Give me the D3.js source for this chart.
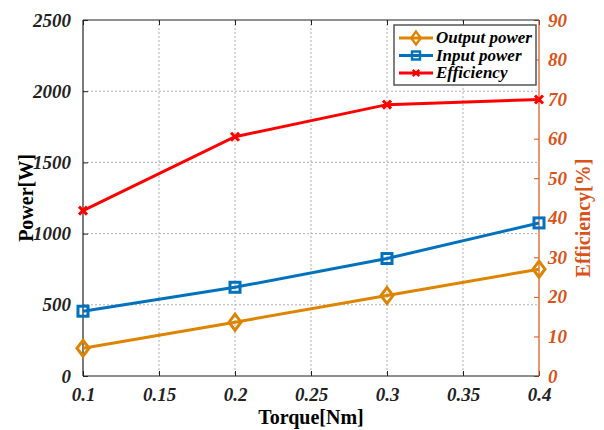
<!DOCTYPE html>
<html>
<head>
<meta charset="utf-8">
<script src="https://cdn.jsdelivr.net/npm/d3@7"></script>
<style>
  body { margin: 0; background: #fff; }
  text { font-family: "Liberation Serif", "Times New Roman", serif; }
</style>
</head>
<body>
<div id="chart"></div>
<script>
// chart values
const torque = [0.1, 0.2, 0.3, 0.4];
const outputPower = [195, 378, 565, 750];
const inputPower = [455, 623, 825, 1075];
const efficiency = [41.8, 60.5, 68.6, 69.9];
const xTicks = [0.1, 0.15, 0.2, 0.25, 0.3, 0.35, 0.4];
const leftTicks = [0, 500, 1000, 1500, 2000, 2500];
const rightTicks = [0, 10, 20, 30, 40, 50, 60, 70, 80, 90];
const seriesNames = ['Output power', 'Input power', 'Efficiency'];

const width = 604;
const height = 430;
const margin = { top: 20, right: 65, bottom: 54, left: 83 };
const innerW = width - margin.left - margin.right;
const innerH = height - margin.top - margin.bottom;

const cOut = '#DD8400';
const cIn = '#0072BD';
const cEff = '#FF0000';
const cRight = '#D95319';
const serif = '"Liberation Serif", "Times New Roman", serif';

const svg = d3.select('#chart').append('svg')
  .attr('width', width)
  .attr('height', height);

const g = svg.append('g')
  .attr('transform', `translate(${margin.left},${margin.top})`);

const x = d3.scaleLinear().domain([0.1, 0.4]).range([0, innerW]);
const yL = d3.scaleLinear().domain([0, 2500]).range([innerH, 0]);
const yR = d3.scaleLinear().domain([0, 90]).range([innerH, 0]);

// grid
g.append('g').selectAll('line').data(xTicks.slice(1, -1)).join('line')
  .attr('x1', (d) => x(d)).attr('x2', (d) => x(d))
  .attr('y1', 0).attr('y2', innerH)
  .attr('stroke', '#b0b0b0').attr('stroke-width', 1)
  .attr('stroke-dasharray', '2,2');
g.append('g').selectAll('line').data(leftTicks.slice(1, -1)).join('line')
  .attr('x1', 0).attr('x2', innerW)
  .attr('y1', (d) => yL(d)).attr('y2', (d) => yL(d))
  .attr('stroke', '#b0b0b0').attr('stroke-width', 1)
  .attr('stroke-dasharray', '2,2');

// axes, ticks inside
const tickStyle = (sel, color) => {
  sel.attr('font-family', serif);
  sel.select('.domain').remove();
  sel.selectAll('.tick line').attr('stroke', color);
  sel.selectAll('.tick text')
    .attr('fill', color)
    .attr('font-size', '19px')
    .attr('font-weight', 'bold')
    .attr('font-style', 'italic');
};

const xAxisG = g.append('g')
  .attr('transform', `translate(0,${innerH})`)
  .call(d3.axisBottom(x).tickValues(xTicks).tickSizeInner(-5).tickSizeOuter(0)
    .tickPadding(12).tickFormat((d) => String(+d.toFixed(2))));
tickStyle(xAxisG, '#222');

const xTopG = g.append('g')
  .call(d3.axisTop(x).tickValues(xTicks).tickSizeInner(-5).tickSizeOuter(0).tickFormat(''));
tickStyle(xTopG, '#222');

const yLG = g.append('g')
  .call(d3.axisLeft(yL).tickValues(leftTicks).tickSizeInner(-5).tickSizeOuter(0)
    .tickPadding(12).tickFormat(d3.format('d')));
tickStyle(yLG, '#222');

const yRG = g.append('g')
  .attr('transform', `translate(${innerW},0)`)
  .call(d3.axisRight(yR).tickValues(rightTicks).tickSizeInner(-5).tickSizeOuter(0).tickPadding(9));
tickStyle(yRG, cRight);

// frame
g.append('line').attr('x1', 0).attr('x2', innerW).attr('y1', 0).attr('y2', 0)
  .attr('stroke', '#222').attr('stroke-width', 1.2);
g.append('line').attr('x1', 0).attr('x2', innerW).attr('y1', innerH).attr('y2', innerH)
  .attr('stroke', '#222').attr('stroke-width', 1.2);
g.append('line').attr('x1', 0).attr('x2', 0).attr('y1', 0).attr('y2', innerH)
  .attr('stroke', '#222').attr('stroke-width', 1.2);
g.append('line').attr('x1', innerW).attr('x2', innerW).attr('y1', 0).attr('y2', innerH)
  .attr('stroke', cRight).attr('stroke-width', 1.2);

// lines
const lineL = d3.line().x((d) => x(d[0])).y((d) => yL(d[1]));
const lineR = d3.line().x((d) => x(d[0])).y((d) => yR(d[1]));

const series = [
  { name: seriesNames[0], color: cOut, pts: torque.map((t, i) => [t, outputPower[i]]), line: lineL, y: yL, marker: 'diamond' },
  { name: seriesNames[1], color: cIn, pts: torque.map((t, i) => [t, inputPower[i]]), line: lineL, y: yL, marker: 'square' },
  { name: seriesNames[2], color: cEff, pts: torque.map((t, i) => [t, efficiency[i]]), line: lineR, y: yR, marker: 'cross' },
];

function drawMarker(sel, type, color) {
  if (type === 'diamond') {
    sel.append('path').attr('d', 'M0,-8L6,0L0,8L-6,0Z')
      .attr('fill', 'none').attr('stroke', color).attr('stroke-width', 3);
  } else if (type === 'square') {
    sel.append('rect').attr('x', -5).attr('y', -5).attr('width', 10).attr('height', 10)
      .attr('fill', 'none').attr('stroke', color).attr('stroke-width', 3);
  } else {
    sel.append('path').attr('d', 'M-4,-4L4,4M-4,4L4,-4')
      .attr('stroke', color).attr('stroke-width', 3);
  }
}

series.forEach((s) => {
  g.append('path').datum(s.pts)
    .attr('d', s.line)
    .attr('fill', 'none')
    .attr('stroke', s.color)
    .attr('stroke-width', 3);
  s.pts.forEach((p) => {
    const m = g.append('g').attr('transform', `translate(${x(p[0])},${s.y(p[1])})`);
    drawMarker(m, s.marker, s.color);
  });
});

// legend
const lg = svg.append('g').attr('transform', 'translate(394,25)');
lg.append('rect').attr('x', 0).attr('y', 0).attr('width', 142).attr('height', 60)
  .attr('fill', '#fff').attr('stroke', '#555').attr('stroke-width', 1.5);
series.forEach((s, i) => {
  const yy = 13 + i * 17.5;
  lg.append('line').attr('x1', 5).attr('x2', 39).attr('y1', yy).attr('y2', yy)
    .attr('stroke', s.color).attr('stroke-width', 3);
  const m = lg.append('g').attr('transform', `translate(22,${yy}) scale(0.8)`);
  drawMarker(m, s.marker, s.color);
  lg.append('text').attr('x', 42).attr('y', yy + 5)
    .attr('font-size', '17px').attr('font-weight', 'bold').attr('font-style', 'italic')
    .attr('fill', '#000')
    .text(s.name);
});

// axis titles
svg.append('text')
  .attr('x', margin.left + innerW / 2).attr('y', 424)
  .attr('text-anchor', 'middle')
  .attr('font-size', '20px').attr('font-weight', 'bold')
  .text('Torque[Nm]');

svg.append('text')
  .attr('transform', `translate(33,${margin.top + innerH / 2}) rotate(-90)`)
  .attr('text-anchor', 'middle')
  .attr('font-size', '20px').attr('font-weight', 'bold')
  .text('Power[W]');

svg.append('text')
  .attr('transform', `translate(590,${margin.top + innerH / 2 + 20}) rotate(-90)`)
  .attr('text-anchor', 'middle')
  .attr('font-size', '20px').attr('font-weight', 'bold')
  .attr('fill', cRight)
  .text('Efficiency[%]');
</script>
</body>
</html>
